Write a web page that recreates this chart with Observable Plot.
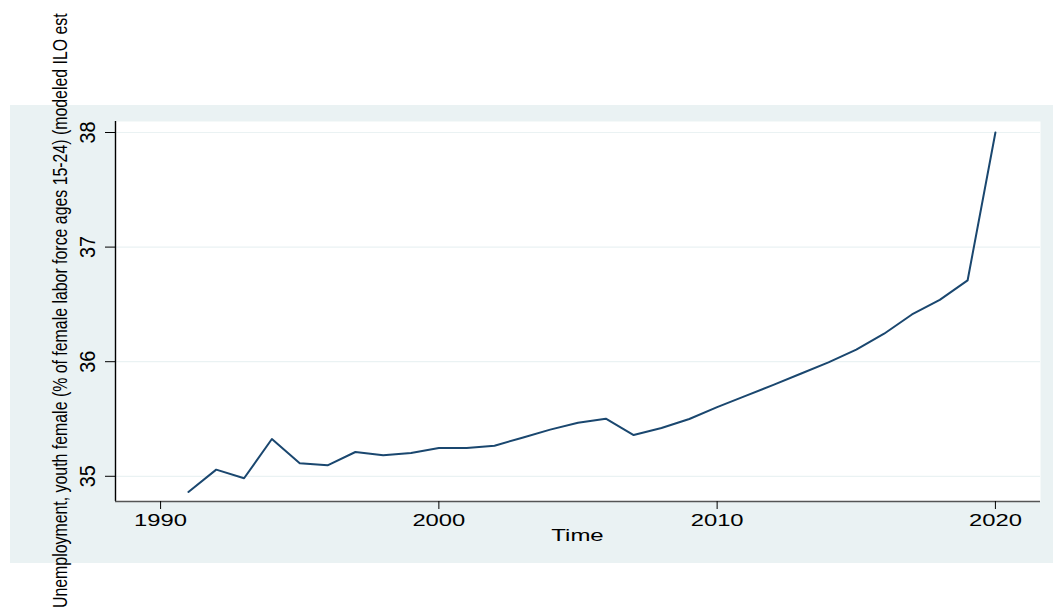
<!DOCTYPE html>
<html>
<head>
<meta charset="utf-8">
<script src="https://cdn.jsdelivr.net/npm/d3@7"></script>
<script src="https://cdn.jsdelivr.net/npm/@observablehq/plot@0.6"></script>
<style>
  html, body { margin: 0; padding: 0; background: #ffffff; }
  #wrap { position: relative; width: 1053px; height: 611px; overflow: hidden; }
  #panel { position: absolute; left: 10px; top: 105px; width: 1043px; height: 458px; background: #eaf2f3; }
  #chart { position: absolute; left: 0; top: 0; }
  #chart svg { background: transparent !important; }
</style>
</head>
<body>
<div id="wrap">
  <div id="panel"></div>
  <div id="chart"></div>
</div>
<script>
// Data
const years = [1991, 1992, 1993, 1994, 1995, 1996, 1997, 1998, 1999, 2000,
               2001, 2002, 2003, 2004, 2005, 2006, 2007, 2008, 2009, 2010,
               2011, 2012, 2013, 2014, 2015, 2016, 2017, 2018, 2019, 2020];
const values = [34.863, 35.058, 34.983, 35.325, 35.113, 35.096, 35.212, 35.183, 35.203, 35.247,
                35.247, 35.267, 35.337, 35.407, 35.468, 35.503, 35.360, 35.421, 35.500, 35.604,
                35.700, 35.795, 35.895, 35.994, 36.105, 36.244, 36.412, 36.540, 36.709, 38.000];
const xTicks = [1990, 2000, 2010, 2020];
const yTicks = [35, 36, 37, 38];
const xDomain = [1988.38, 2021.62];
const yDomain = [34.78, 38.096];
const yLabel = "Unemployment, youth female (% of female labor force ages 15-24) (modeled ILO est";
const xLabel = "Time";

const data = years.map((y, i) => ({year: y, value: values[i]}));
const FONT = "'Liberation Sans', Arial, sans-serif";

const chart = Plot.plot({
  width: 1053,
  height: 611,
  marginLeft: 115,
  marginRight: 13,
  marginTop: 121,
  marginBottom: 110,
  style: {background: "transparent", fontFamily: FONT},
  x: {domain: xDomain, label: null},
  y: {domain: yDomain, label: null},
  marks: [
    Plot.frame({fill: "white", stroke: null}),
    Plot.gridY(yTicks, {stroke: "#eaf2f3", strokeOpacity: 1, strokeWidth: 1.2}),
    Plot.ruleX([xDomain[0]], {stroke: "#000", strokeWidth: 1.4}),
    Plot.ruleY([yDomain[0]], {stroke: "#555", strokeWidth: 1.4}),
    Plot.axisY(yTicks, {tickSize: 10, tickFormat: () => "", stroke: "#000", label: null}),
    Plot.text(yTicks, {y: d => d, text: d => String(d), frameAnchor: "left", dx: -21,
                       rotate: -90, textAnchor: "middle", lineAnchor: "bottom",
                       fontSize: 22, fill: "#000"}),
    Plot.axisX(xTicks, {tickSize: 8, tickPadding: 4, fontSize: 17,
                        tickFormat: d => String(d), stroke: "#000", fill: "#000", label: null}),
    Plot.line(data, {x: "year", y: "value", stroke: "#1a476f", strokeWidth: 2})
  ]
});

document.getElementById("chart").appendChild(chart);

const svg = d3.select(chart);
// Horizontal stretch of x tick labels (reference is anisotropically scaled)
svg.selectAll('g[aria-label="x-axis tick label"] text').each(function() {
  const t = this.getAttribute("transform") || "";
  this.setAttribute("transform", t + " scale(1.4,1)");
});
// condense rotated y tick labels along their text direction
svg.selectAll('g[aria-label="text"] text').each(function() {
  const t = this.getAttribute("transform") || "";
  this.setAttribute("transform", t + " scale(0.9,1)");
});

// x axis title
svg.append("text")
  .attr("transform", `translate(${(115 + 1040) / 2},541) scale(1.5,1)`)
  .attr("text-anchor", "middle")
  .attr("font-size", 16)
  .attr("font-family", FONT)
  .attr("fill", "#000")
  .text(xLabel);

// y axis title (rotated, condensed along its text direction)
const yt = svg.append("text")
  .attr("text-anchor", "start")
  .attr("font-size", 21)
  .attr("font-family", FONT)
  .attr("fill", "#000")
  .text(yLabel);
const natural = yt.node().getComputedTextLength() || 840;
const k = 595 / natural;
yt.attr("transform", `translate(67,608) rotate(-90) scale(${k},1)`);
</script>
</body>
</html>
